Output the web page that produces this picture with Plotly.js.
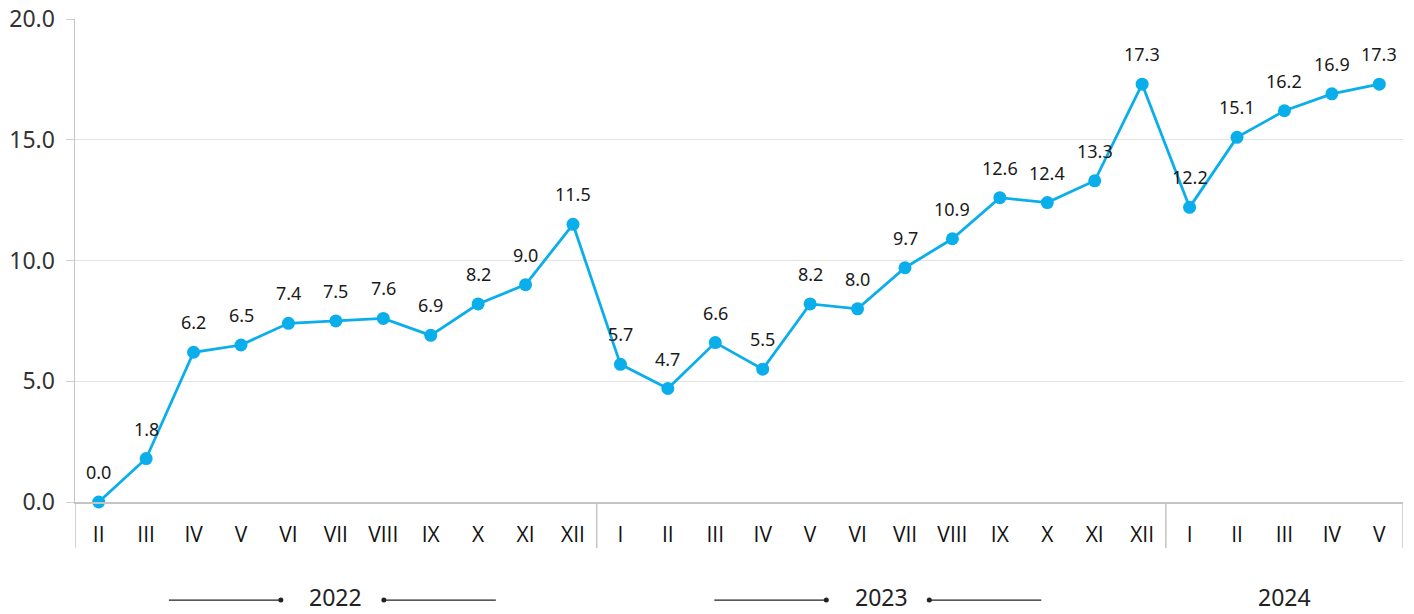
<!DOCTYPE html>
<html>
<head>
<meta charset="utf-8">
<script src="https://cdn.plot.ly/plotly-3.0.1.min.js"></script>
<style>html,body{margin:0;padding:0;background:#fff;}#chart{width:1414px;height:614px;}</style>
</head>
<body>
<div id="chart"></div>
<script>
// Data
const monthLabels = ['II','III','IV','V','VI','VII','VIII','IX','X','XI','XII',
  'I','II','III','IV','V','VI','VII','VIII','IX','X','XI','XII',
  'I','II','III','IV','V'];
const values = [0.0,1.8,6.2,6.5,7.4,7.5,7.6,6.9,8.2,9.0,11.5,
  5.7,4.7,6.6,5.5,8.2,8.0,9.7,10.9,12.6,12.4,13.3,17.3,
  12.2,15.1,16.2,16.9,17.3];
const years = ['2022','2023','2024'];
const yearCounts = [11,12,5];

const xIdx = monthLabels.map((_, i) => i);

const shapes = [];
const annotations = [];
const sepColor = '#c4c4c4';
const yearY = -0.197;

// separators at group boundaries
let start = 0;
const bounds = [-0.5];
yearCounts.forEach(c => { start += c; bounds.push(start - 0.5); });
bounds.forEach(b => {
  shapes.push({type:'line', xref:'x', yref:'paper', ysizemode:'pixel', yanchor:0,
    x0:b, x1:b, y0:0, y1:-46, line:{color:sepColor, width:1.5}});
});

start = 0;
years.forEach((yr, gi) => {
  const c = yearCounts[gi];
  const center = start + (c - 1) / 2;
  annotations.push({xref:'x', yref:'paper', x:center, y:yearY, yanchor:'middle',
    text:yr, showarrow:false, borderpad:0, font:{family:'Noto Sans', size:23, color:'#222'}});
  if (c >= 8) {
    [[-167,-55,-55],[48,160,48]].forEach(([a,b,d]) => {
      shapes.push({type:'line', xref:'x', yref:'paper', xsizemode:'pixel', xanchor:center,
        x0:a, x1:b, y0:-0.203, y1:-0.203, line:{color:'#222', width:1.2}});
      shapes.push({type:'circle', xref:'x', yref:'paper', xsizemode:'pixel', ysizemode:'pixel',
        xanchor:center, yanchor:-0.203, x0:d-2.5, x1:d+2.5, y0:-2.5, y1:2.5,
        fillcolor:'#222', line:{width:0}});
    });
  }
  start += c;
});

// data labels
values.forEach((v, i) => {
  annotations.push({xref:'x', yref:'y', x:xIdx[i], y:v, yshift:30, yanchor:'middle',
    text:v.toFixed(1), showarrow:false, borderpad:0,
    font:{family:'Noto Sans', size:18, color:'#1a1a1a'}});
});

const trace = {
  x: xIdx, y: values, type:'scatter', mode:'lines+markers',
  line:{color:'#0AAEEA', width:2.8},
  marker:{color:'#0AAEEA', size:13},
  cliponaxis:false, hoverinfo:'skip'
};

const layout = {
  width:1414, height:614,
  margin:{l:75, r:11, t:19, b:112},
  paper_bgcolor:'#fff', plot_bgcolor:'#fff',
  showlegend:false,
  xaxis:{
    range:[-0.5, 27.5], tickvals:xIdx, ticktext:monthLabels,
    showgrid:false, zeroline:false, showline:true, linecolor:sepColor, linewidth:1.5,
    ticks:'', ticklabelstandoff:13,
    tickfont:{family:'Open Sans', size:21, color:'#111'}, fixedrange:true
  },
  yaxis:{
    range:[0,20], dtick:5, tickformat:'.1f',
    showgrid:true, gridcolor:'#e3e3e3', gridwidth:1,
    zeroline:false, showline:true, linecolor:sepColor, linewidth:1.5,
    ticks:'outside', ticklen:8, tickcolor:'#d0d0d0', ticklabelstandoff:6,
    tickfont:{family:'Noto Sans', size:23, color:'#333'}, fixedrange:true
  },
  shapes, annotations
};

Plotly.newPlot('chart', [trace], layout, {displayModeBar:false, staticPlot:true});
</script>
</body>
</html>
